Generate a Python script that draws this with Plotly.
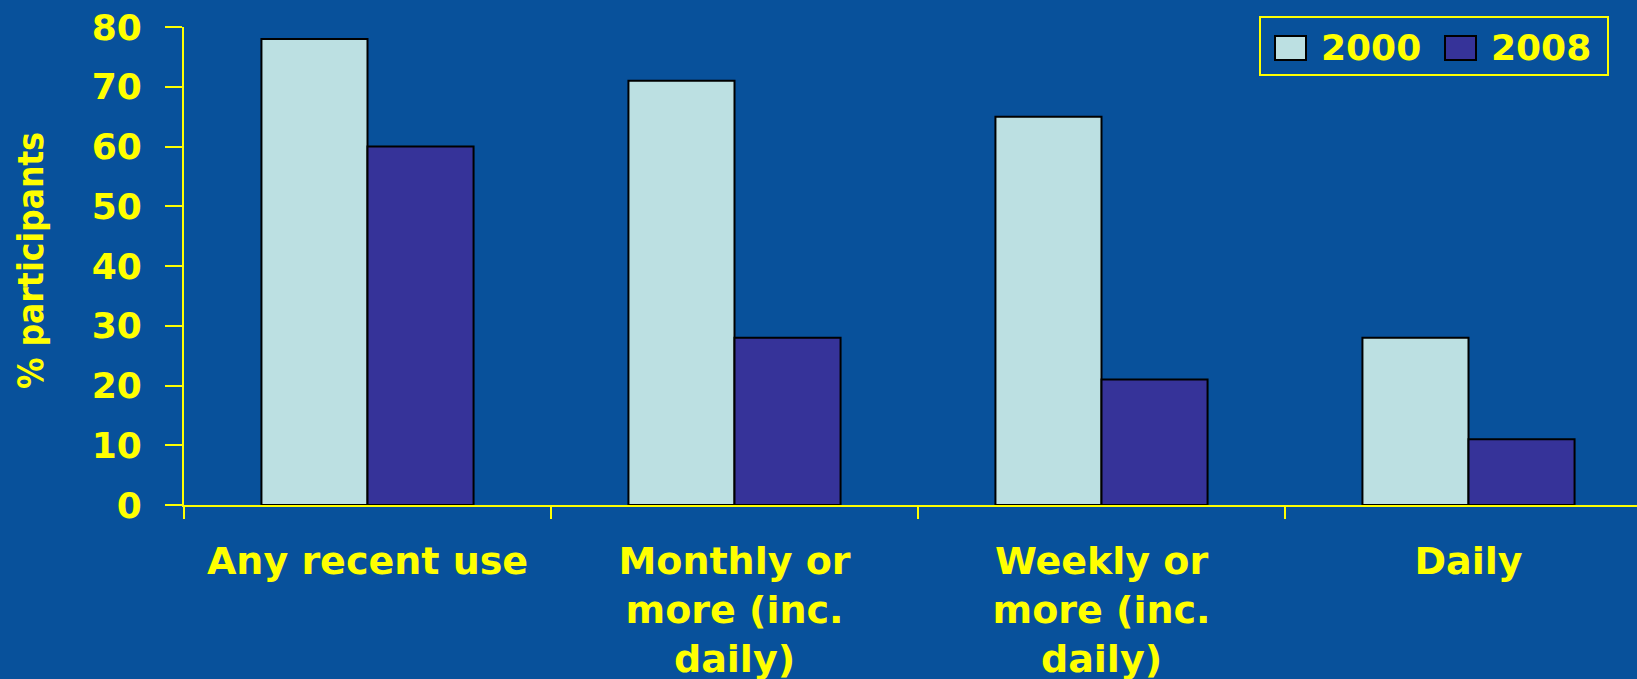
import plotly.graph_objects as go

categories = ["Any recent use", "Monthly or<br>more (inc.<br>daily)", "Weekly or<br>more (inc.<br>daily)", "Daily"]
series_names = ["2000", "2008"]
values_2000 = [78, 71, 65, 28]
values_2008 = [60, 28, 21, 11]
y_ticks = [0, 10, 20, 30, 40, 50, 60, 70, 80]

W, H = 1637, 679
ML, MR, MT, MB = 184, 0, 27, 174
BG = "#08519B"
YEL = "#FFFF00"
C2000 = "#BCE0E2"
C2008 = "#363399"
cat_px = 367.0
plot_w = W - ML - MR
plot_h = H - MT - MB

fig = go.Figure()
fig.add_bar(x=categories, y=values_2000, name=series_names[0],
            marker=dict(color=C2000, line=dict(color="#000000", width=2)), showlegend=False)
fig.add_bar(x=categories, y=values_2008, name=series_names[1],
            marker=dict(color=C2008, line=dict(color="#000000", width=2)), showlegend=False)

tickfont = dict(family="DejaVu Sans", size=36, color=YEL, weight="bold")

fig.update_layout(
    width=W, height=H,
    margin=dict(l=ML, r=MR, t=MT, b=MB, autoexpand=False),
    paper_bgcolor=BG, plot_bgcolor=BG,
    barmode="group", bargap=0.422, bargroupgap=0,
    xaxis=dict(
        type="category",
        range=[-0.5, -0.5 + plot_w / cat_px],
        tickson="boundaries", ticks="outside", ticklen=12, tickwidth=2, tickcolor=YEL,
        showline=True, linecolor=YEL, linewidth=2, showgrid=False, zeroline=False,
        tickfont=dict(family="DejaVu Sans", size=38, color=YEL, weight="bold"),
        ticklabelstandoff=21, automargin=False,
    ),
    yaxis=dict(
        range=[0, 80], tickmode="array", tickvals=y_ticks, ticktext=[str(v) for v in y_ticks],
        ticks="outside", ticklen=17, tickwidth=2, tickcolor=YEL,
        showline=True, linecolor=YEL, linewidth=2, showgrid=False, zeroline=False,
        tickfont=tickfont, ticklabelstandoff=16, automargin=False,
    ),
)

def px_x(p):
    return (p - ML) / plot_w

def px_y(p):
    return (H - MB - p) / plot_h

# y-axis title
fig.add_annotation(text="% participants", xref="paper", yref="paper",
                   x=px_x(31), y=px_y(261), xanchor="center", yanchor="middle",
                   textangle=-90, showarrow=False,
                   font=dict(family="DejaVu Sans Condensed", size=35, color=YEL, weight="bold"))

# legend (drawn manually to match swatch sizes)
fig.add_shape(type="rect", xref="paper", yref="paper",
              x0=px_x(1260), x1=px_x(1608), y0=px_y(75), y1=px_y(17),
              line=dict(color=YEL, width=2), fillcolor="rgba(0,0,0,0)")
legend_items = [(series_names[0], C2000, 1275, 1321), (series_names[1], C2008, 1445, 1491)]
for name, col, sx, tx in legend_items:
    fig.add_shape(type="rect", xref="paper", yref="paper",
                  x0=px_x(sx), x1=px_x(sx + 31), y0=px_y(60), y1=px_y(36),
                  line=dict(color="#000000", width=2), fillcolor=col)
    fig.add_annotation(text=name, xref="paper", yref="paper",
                       x=px_x(tx - 2), y=px_y(48), xanchor="left", yanchor="middle",
                       showarrow=False, font=tickfont)

fig.write_html("out.html", config={"displayModeBar": False},
               post_script="document.body.style.margin='0';document.body.style.background='#08519B';")
